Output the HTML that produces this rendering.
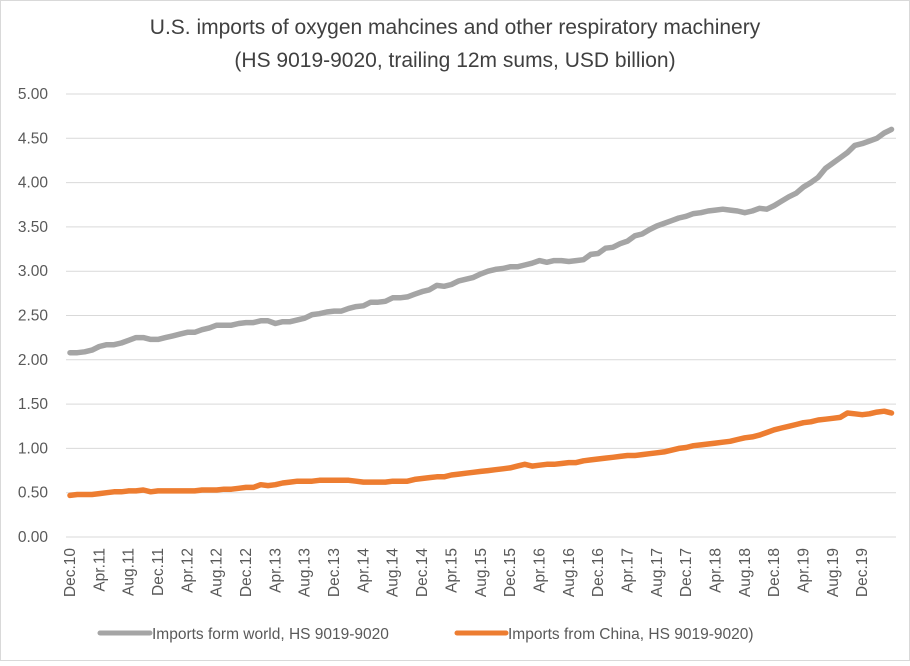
<!DOCTYPE html>
<html><head><meta charset="utf-8"><style>
body{margin:0;background:#fff;font-family:"Liberation Sans",sans-serif}
svg text{font-family:"Liberation Sans",sans-serif}
</style></head><body>
<svg width="910" height="661" id="chart">
<rect x="0.5" y="0.5" width="909" height="660" fill="#fff" stroke="#d9d9d9"/>
<text x="455" y="34" text-anchor="middle" font-size="21" fill="#404040">U.S. imports of oxygen mahcines and other respiratory machinery</text>
<text x="455" y="67" text-anchor="middle" font-size="21" fill="#404040">(HS 9019-9020, trailing 12m sums, USD billion)</text>
<g id="grid"></g><g id="ylab"></g><g id="xlab"></g><g id="lines"></g>
<g>
<line x1="100" y1="633" x2="150" y2="633" stroke="#a5a5a5" stroke-width="5" stroke-linecap="round"/>
<text x="152" y="639" font-size="15.5" fill="#595959">Imports form world, HS 9019-9020</text>
<line x1="457" y1="633" x2="506" y2="633" stroke="#ed7d31" stroke-width="5" stroke-linecap="round"/>
<text x="508" y="639" font-size="15.5" fill="#595959">Imports from China, HS 9019-9020)</text>
</g>
</svg>
<script>
const yTicks=[0,0.5,1,1.5,2,2.5,3,3.5,4,4.5,5];
const monthNames=["Jan","Feb","Mar","Apr","May","Jun","Jul","Aug","Sep","Oct","Nov","Dec"];
const world=[2.08,2.08,2.09,2.11,2.15,2.17,2.17,2.19,2.22,2.25,2.25,2.23,2.23,2.25,2.27,2.29,2.31,2.31,2.34,2.36,2.39,2.39,2.39,2.41,2.42,2.42,2.44,2.44,2.41,2.43,2.43,2.45,2.47,2.51,2.52,2.54,2.55,2.55,2.58,2.60,2.61,2.65,2.65,2.66,2.70,2.70,2.71,2.74,2.77,2.79,2.84,2.83,2.85,2.89,2.91,2.93,2.97,3.00,3.02,3.03,3.05,3.05,3.07,3.09,3.12,3.10,3.12,3.12,3.11,3.12,3.13,3.19,3.20,3.26,3.27,3.31,3.34,3.40,3.42,3.47,3.51,3.54,3.57,3.60,3.62,3.65,3.66,3.68,3.69,3.70,3.69,3.68,3.66,3.68,3.71,3.70,3.74,3.79,3.84,3.88,3.95,4.00,4.06,4.16,4.22,4.28,4.34,4.42,4.44,4.47,4.50,4.56,4.60];
const china=[.47,.48,.48,.48,.49,.50,.51,.51,.52,.52,.53,.51,.52,.52,.52,.52,.52,.52,.53,.53,.53,.54,.54,.55,.56,.56,.59,.58,.59,.61,.62,.63,.63,.63,.64,.64,.64,.64,.64,.63,.62,.62,.62,.62,.63,.63,.63,.65,.66,.67,.68,.68,.70,.71,.72,.73,.74,.75,.76,.77,.78,.80,.82,.80,.81,.82,.82,.83,.84,.84,.86,.87,.88,.89,.90,.91,.92,.92,.93,.94,.95,.96,.98,1.00,1.01,1.03,1.04,1.05,1.06,1.07,1.08,1.10,1.12,1.13,1.15,1.18,1.21,1.23,1.25,1.27,1.29,1.30,1.32,1.33,1.34,1.35,1.40,1.39,1.38,1.39,1.41,1.42,1.40];
const NS="http://www.w3.org/2000/svg";
const X0=70,DX=7.335,Y0=537,YS=88.6;
const x=i=>X0+i*DX, y=v=>Y0-v*YS;
const grid=document.getElementById('grid'),ylab=document.getElementById('ylab'),xlab=document.getElementById('xlab'),lines=document.getElementById('lines');
yTicks.forEach(t=>{
 const l=document.createElementNS(NS,'line');
 l.setAttribute('x1',66);l.setAttribute('x2',896);l.setAttribute('y1',y(t));l.setAttribute('y2',y(t));
 l.setAttribute('stroke','#d9d9d9');l.setAttribute('stroke-width','1');
 
 
 grid.appendChild(l);
 const tx=document.createElementNS(NS,'text');
 tx.setAttribute('x',48);tx.setAttribute('y',y(t)+5);tx.setAttribute('text-anchor','end');
 tx.setAttribute('font-size','15.5');tx.setAttribute('fill','#595959');
 tx.textContent=t.toFixed(2);
 
 
 ylab.appendChild(tx);
});
for(let i=0;i<=108;i+=4){
 const total=11+i;
 const yr=10+Math.floor(total/12);
 const m=monthNames[total%12];
 const tx=document.createElementNS(NS,'text');
 const px=x(i)+5;
 tx.setAttribute('transform',`translate(${px},548) rotate(-90)`);
 tx.setAttribute('text-anchor','end');tx.setAttribute('font-size','15.5');tx.setAttribute('fill','#595959');
 tx.textContent=m+'.'+yr;
 
 
 xlab.appendChild(tx);
}
function draw(arr,color,name){
 const p=document.createElementNS(NS,'polyline');
 p.setAttribute('points',arr.map((v,i)=>x(i).toFixed(1)+','+y(v).toFixed(1)).join(' '));
 p.setAttribute('fill','none');p.setAttribute('stroke',color);p.setAttribute('stroke-width','5.5');
 p.setAttribute('stroke-linejoin','round');p.setAttribute('stroke-linecap','round');
 
 
 lines.appendChild(p);
}
draw(world,'#a5a5a5','world-imports-line');
draw(china,'#ed7d31','china-imports-line');
</script>
</body></html>
